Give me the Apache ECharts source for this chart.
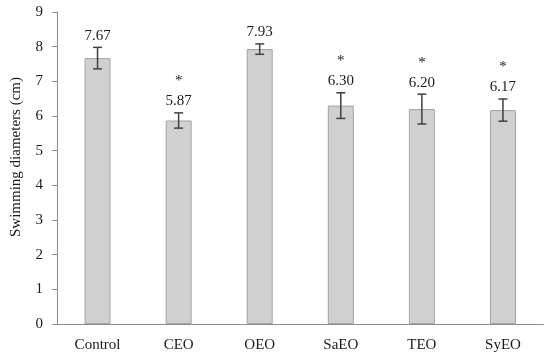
<!DOCTYPE html>
<html><head><meta charset="utf-8">
<script src="https://cdn.jsdelivr.net/npm/echarts@6/dist/echarts.min.js"></script>
<style>html,body{margin:0;padding:0;background:#fff}#c{width:550px;height:357px}</style>
</head><body><div id="c"></div>
<script>
const categories = ['Control','CEO','OEO','SaEO','TEO','SyEO'];
const means = [7.67, 5.87, 7.93, 6.30, 6.20, 6.17];
const errors = [0.31, 0.22, 0.15, 0.37, 0.43, 0.32];
const valueLabels = ['7.67','5.87','7.93','6.30','6.20','6.17'];
const significance = ['', '*', '', '*', '*', '*'];
const yTicks = [0,1,2,3,4,5,6,7,8,9];
const yTitle = 'Swimming diameters (cm)';

const FONT = '"Liberation Serif", serif';
const chart = echarts.init(document.getElementById('c'), null, {renderer:'canvas'});
chart.setOption({
  animation: false,
  grid: {left: 57, right: 6.5, top: 12, bottom: 33},
  graphic: [{
    type: 'text', x: 16, y: 157, rotation: Math.PI/2,
    style: {text: yTitle, align: 'center', verticalAlign: 'middle', font: '15px ' + FONT, fill: '#1a1a1a'}
  }],
  xAxis: {
    type: 'category', data: categories,
    axisLine: {lineStyle: {color: '#8c8c8c', width: 1}},
    axisTick: {show: false},
    axisLabel: {color: '#1a1a1a', fontFamily: FONT, fontSize: 15, margin: 14}
  },
  yAxis: {
    type: 'value', min: yTicks[0], max: yTicks[yTicks.length-1], interval: 1,
    axisLine: {show: true, lineStyle: {color: '#8c8c8c', width: 1}},
    axisTick: {show: true, length: 5, lineStyle: {color: '#8c8c8c'}},
    splitLine: {show: false},
    axisLabel: {color: '#1a1a1a', fontFamily: FONT, fontSize: 15, margin: 14}
  },
  series: [
    {
      type: 'bar', data: means, barWidth: 26,
      itemStyle: {color: '#d0d0d0', borderColor: '#a3a3a3', borderWidth: 1}
    },
    {
      type: 'custom',
      data: means.map((m, i) => [i, m, errors[i]]),
      z: 10,
      renderItem: function (params, api) {
        const i = api.value(0), m = api.value(1), e = api.value(2);
        const top = api.coord([i, m + e]);
        const bot = api.coord([i, m - e]);
        const x = top[0];
        const hw = 4.5;
        const st = {stroke: '#404040', lineWidth: 1.5};
        const children = [
          {type:'line', shape:{x1:x, y1:top[1], x2:x, y2:bot[1]}, style: st},
          {type:'line', shape:{x1:x-hw, y1:top[1], x2:x+hw, y2:top[1]}, style: st},
          {type:'line', shape:{x1:x-hw, y1:bot[1], x2:x+hw, y2:bot[1]}, style: st},
          {type:'text', style:{text: valueLabels[i], x: x, y: top[1]-4, align:'center', verticalAlign:'bottom',
            font: '15px ' + FONT, fill:'#1a1a1a'}}
        ];
        if (significance[i]) {
          children.push({type:'text', style:{text: significance[i], x: x, y: top[1]-24, align:'center', verticalAlign:'bottom',
            font: '15px ' + FONT, fill:'#1a1a1a'}});
        }
        return {type:'group', children};
      }
    }
  ]
});
</script></body></html>
